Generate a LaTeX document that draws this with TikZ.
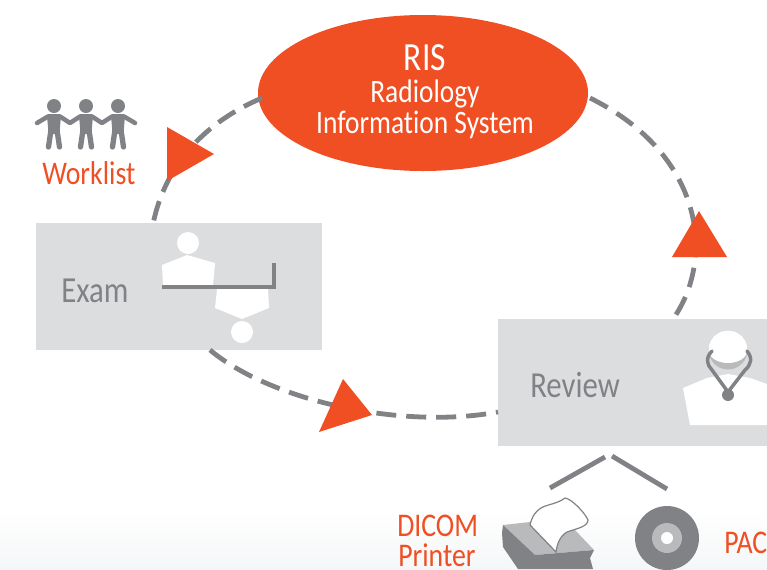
\documentclass[tikz,border=0pt]{standalone}
\usepackage{fontspec}
\setmainfont[FakeStretch=0.84,Ligatures=NoCommon]{Carlito}
\usetikzlibrary{shapes.geometric}
\definecolor{accent}{HTML}{F04E23}
\definecolor{ink}{HTML}{808285}
\definecolor{panel}{HTML}{DCDDDF}
\definecolor{lite}{HTML}{B9BABC}
\definecolor{floorband}{HTML}{F4F7F8}
\tikzset{
  x=0.75pt,y=-0.75pt,
  flow/.style={draw=ink,line width=3.6pt,dash pattern=on 15pt off 7.5pt},
  tip/.style={fill=accent,draw=none},
  boxnode/.style={fill=panel,draw=none,inner sep=0pt,anchor=north west},
  label/.style={inner sep=0pt,anchor=base west},
  redlabel/.style={label,text=accent,font=\fontsize{24.8}{24.8}\selectfont},
  graylabel/.style={label,text=ink,font=\fontsize{27.5}{27.5}\selectfont},
  ristext/.style={inner sep=0pt,text=white,anchor=base,font=\fontsize{24.5}{24.5}\selectfont},
  limb/.style={draw=ink,line cap=round,line join=round},
  bar/.style={draw=ink,line width=3.6pt},
  whiteshape/.style={fill=white,draw=none},
}
\begin{document}
\begin{tikzpicture}
\useasboundingbox (0,0) rectangle (767,569);
\clip (0,0) rectangle (767,569);
% faint floor band
\shade[top color=white,bottom color=floorband] (0,510) rectangle (767,569);

% nodes
\node[fill=accent,draw=none,ellipse,minimum width=247.5pt,minimum height=117pt,inner sep=0pt] (ris) at (423,93) {};
\node[boxnode,minimum width=214.5pt,minimum height=95.25pt] (exam) at (36,223) {};
\node[boxnode,minimum width=201.75pt,minimum height=95.25pt] (review) at (498,319) {};

% connectors
\coordinate (a1) at (262,98);
\coordinate (a2) at (153,224);
\coordinate (b1) at (210,350);
\coordinate (b2) at (498,412);
\coordinate (c1) at (673,319);
\coordinate (c2) at (590,98);
\draw[flow] (a1) .. controls (205,122) and (165,165) .. (a2);
\draw[flow] (b1) .. controls (270,400) and (400,430) .. (b2);
\draw[flow,dash pattern=on 15pt off 7.9pt] (c2) .. controls (705,155) and (715,260) .. (c1);

% arrowheads
\fill[tip] (167,127) -- (214,154) -- (167,181) -- cycle;
\fill[tip] (699,211) -- (727,257) -- (672,257) -- cycle;
\fill[tip] (343,379) -- (372,415) -- (319,432) -- cycle;

% RIS text
\node[ristext,font=\fontsize{30}{30}\selectfont] (t1) at (425,70) {RIS};
\node[ristext] (t2) at (425,102) {Radiology};
\node[ristext] (t3) at (425,133) {Information System};

% labels
\node[redlabel] (worklist) at (42,184) {Worklist};
\node[graylabel] (examt) at (61,302) {Exam};
\node[graylabel] (reviewt) at (530,397) {Review};
\node[redlabel] (dicom) at (397,536) {DICOM};
\node[redlabel] (printer) at (398,566) {Printer};
\node[redlabel] (pac) at (724,553) {PAC};

% worklist people
\foreach \px in {54,86,118}{
  \fill[ink] (\px,106) circle[radius=7];
  \draw[limb,line width=4pt] (\px-3,130) -- (\px-5.5,147);
  \draw[limb,line width=4pt] (\px+3,130) -- (\px+5.5,147);
  \fill[ink] (\px-7,115) -- (\px+7,115) -- (\px+5.5,134) -- (\px-5.5,134) -- cycle;
}
\draw[limb,line width=3.4pt] (37,123) -- (48,116.5) -- (60,116.5) -- (70,123) -- (80,116.5) -- (92,116.5) -- (102,123) -- (112,116.5) -- (124,116.5) -- (135,123);

% exam icon
\fill[whiteshape] (188,243) circle[radius=11];
\fill[whiteshape] (162,265) -- (187,255) -- (215,263) -- (213,286) -- (163,286) -- cycle;
\fill[whiteshape] (217,289) -- (268,289) -- (269,308) -- (242,319) -- (215,308) -- cycle;
\fill[whiteshape] (242,332) circle[radius=11];
\draw[bar] (162,287) -- (274,287) -- (274,263);

% review icon
\fill[whiteshape] (683,388) -- (707,378) -- (728,374) -- (750,378) -- (767,384) -- (767,425) -- (690,425) -- cycle;
\fill[lite] (728,350) circle[radius=19.5];
\fill[whiteshape] (708.5,350) arc[start angle=180,end angle=360,radius=19.5] arc[start angle=0,end angle=180,x radius=19.5,y radius=13] -- cycle;
\draw[limb,line width=2.6pt] (712,351) .. controls (705,358) and (707,365) .. (712,370) -- (728,392) (747,351) .. controls (753,358) and (751,365) .. (745,370) -- (728,392);
\fill[ink] (728,395) circle[radius=6];

% split lines
\coordinate (s0) at (605,457);
\coordinate (s1) at (550,488);
\coordinate (s2) at (612,456);
\coordinate (s3) at (667,489);
\draw[bar] (s0) -- (s1);
\draw[bar] (s2) -- (s3);

% printer
\fill[lite] (503,525) -- (530,522) -- (575,530) -- (594,550) -- (535,555) -- cycle;
\fill[ink] (503,525) -- (535,555) -- (594,550) -- (590,558) -- (593,569) -- (518,569) -- (503,547) -- (502,533) -- cycle;
\draw[ink,fill=white,line width=0.9pt] (530,525) .. controls (532,516) and (536,511) .. (541,508) .. controls (548,504) and (557,504) .. (565,498) .. controls (572,499) and (585,513) .. (588,520) .. controls (588,527) and (575,529) .. (567,532) .. controls (560,536) and (557,544) .. (556,552) -- cycle;

% disc
\fill[ink] (667,538) circle[radius=32];
\fill[lite] (667,538) circle[radius=15];
\fill[white] (667,538) circle[radius=6];
\end{tikzpicture}
\end{document}
